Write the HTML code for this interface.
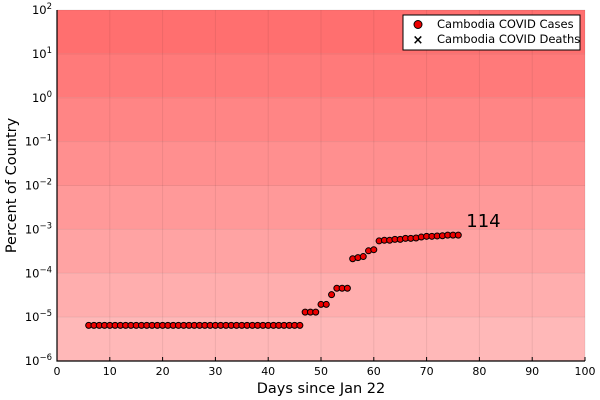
<!DOCTYPE html>
<html><head><meta charset="utf-8"><style>
body{margin:0;background:#fff;}
svg{display:block;font-family:"DejaVu Sans","Liberation Sans",sans-serif;}
</style></head><body>
<svg id="chart" width="600" height="400"></svg>
<script>
const days = [];
for (let d = 6; d <= 76; d++) days.push(d);
const cases = [1,1,1,1,1,1,1,1,1,1,1,1,1,1,1,1,1,1,1,1,1,1,1,1,1,1,1,1,1,1,1,1,1,1,1,1,1,1,1,1,1,
  2,2,2,3,3,5,7,7,7,33,35,37,50,53,
  84,87,87,91,91,96,96,98,103,107,107,109,110,114,114,114];
const population = 15400000;
const xTicks = [0,10,20,30,40,50,60,70,80,90,100];
const yExps = [-6,-5,-4,-3,-2,-1,0,1,2];
const bandColors = ['#ffb8b8','#ffaeae','#ffa3a3','#ff9999','#ff8f8f','#ff8585','#ff7a7a','#ff6f6f'];

const NS = 'http://www.w3.org/2000/svg';
const svg = document.getElementById('chart');
const L = 57, R = 585, T = 10, B = 361;
const xs = v => L + (v - 0) / 100 * (R - L);
const ys = v => B - (Math.log10(v) + 6) / 8 * (B - T);
function el(tag, attrs, parent) {
  const e = document.createElementNS(NS, tag);
  for (const k in attrs) e.setAttribute(k, attrs[k]);
  (parent || svg).appendChild(e);
  return e;
}
for (let i = 0; i < 8; i++) {
  const r = el('rect', {x: L, y: ys(Math.pow(10, i - 5)), width: R - L, height: ys(Math.pow(10, i - 6)) - ys(Math.pow(10, i - 5)), fill: bandColors[i]});
  
  
}
xTicks.forEach(t => {
  const g = el('line', {x1: xs(t), x2: xs(t), y1: T, y2: B, stroke: '#000', 'stroke-opacity': 0.07});
  
  
  const tk = el('line', {x1: xs(t), x2: xs(t), y1: B, y2: B - 4, stroke: '#000'});
  
  
  const lb = el('text', {x: xs(t), y: B + 14, 'font-size': 11, 'text-anchor': 'middle', fill: '#000'});
  lb.textContent = t;
  
  
});
yExps.forEach(e => {
  const y = ys(Math.pow(10, e));
  const g = el('line', {x1: L, x2: R, y1: y, y2: y, stroke: '#000', 'stroke-opacity': 0.07});
  
  
  const lb = el('text', {x: 52, y: y + 4, 'font-size': 11.5, 'text-anchor': 'end', fill: '#000'});
  lb.innerHTML = '10<tspan dy="-5" font-size="8.5">' + (e < 0 ? '\u2212' + (-e) : e) + '</tspan>';
  
  
});
const ax = el('path', {d: `M${L},${T} L${L},${B} L${R},${B}`, stroke: '#000', 'stroke-width': 1.2, fill: 'none'});


days.forEach((d, i) => {
  const c = el('circle', {cx: xs(d), cy: ys(cases[i] / population * 100), r: 3, fill: '#e00', stroke: '#000', 'stroke-width': 1});
  
  
});
const last = cases[cases.length - 1];
const ann = el('text', {x: xs(days[days.length - 1]) + 8, y: ys(last / population * 100) - 8, 'font-size': 18, fill: '#000'});
ann.textContent = last;


const xt = el('text', {x: (L + R) / 2, y: 393, 'font-size': 14.5, 'text-anchor': 'middle'});
xt.textContent = 'Days since Jan 22';


const yt = el('text', {x: 0, y: 0, 'font-size': 14.5, 'text-anchor': 'middle', transform: `translate(16,${(T + B) / 2}) rotate(-90)`});
yt.textContent = 'Percent of Country';


const lg = el('g', {});


el('rect', {x: 403, y: 15, width: 177, height: 35, fill: '#fff', stroke: '#000', 'stroke-width': 1}, lg);
const lc = el('circle', {cx: 418, cy: 24.5, r: 4, fill: '#e00', stroke: '#000'}, lg);


const t1 = el('text', {x: 437, y: 28, 'font-size': 11.5}, lg);
t1.textContent = 'Cambodia COVID Cases';


const lx = el('text', {x: 418, y: 44, 'font-size': 13, 'text-anchor': 'middle', 'font-weight': 'bold'}, lg);
lx.textContent = '×';


const t2 = el('text', {x: 437, y: 43, 'font-size': 11.5}, lg);
t2.textContent = 'Cambodia COVID Deaths';


</script>
</body></html>
